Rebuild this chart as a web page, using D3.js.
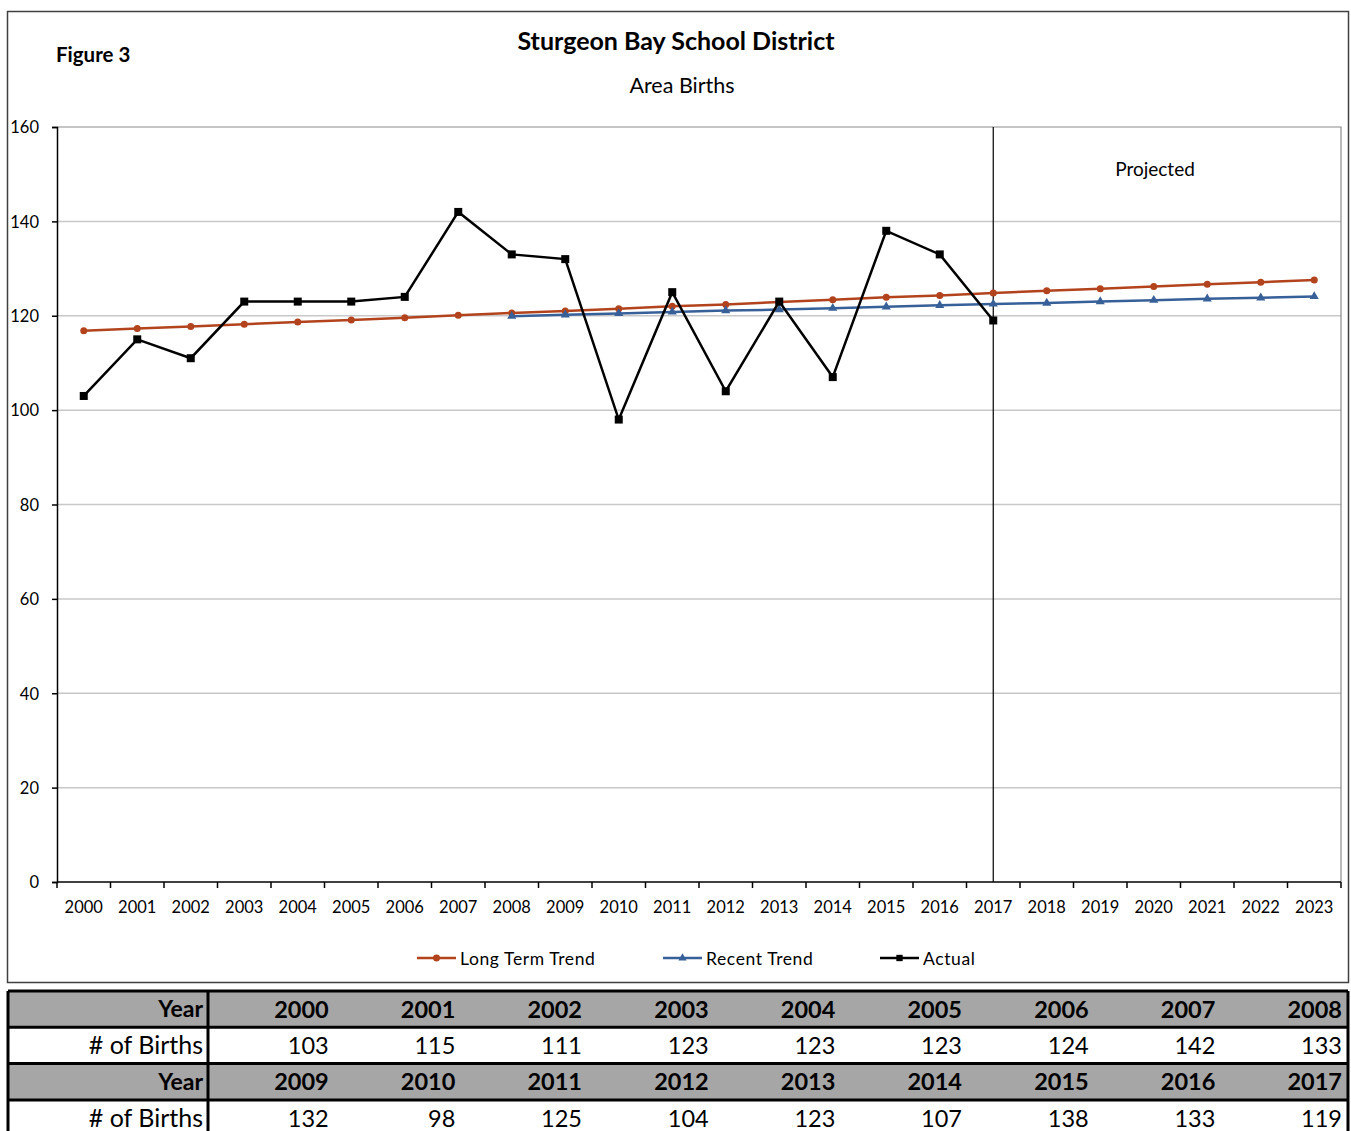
<!DOCTYPE html>
<html>
<head>
<meta charset="utf-8">
<script src="https://cdn.jsdelivr.net/npm/d3@7"></script>
<style>
body { margin: 0; background: #fff; font-family: Lato, "Open Sans", sans-serif; }
</style>
</head>
<body>
<div id="container"></div>
<script>
const years = d3.range(2000, 2024).map(String);
const actualYears = years.slice(0, 18);
const actual = [103, 115, 111, 123, 123, 123, 124, 142, 133, 132, 98, 125, 104, 123, 107, 138, 133, 119];
const longTerm = [116.8, 117.3, 117.7, 118.2, 118.7, 119.1, 119.6, 120.1, 120.6, 121.0, 121.5, 122.0,
    122.4, 122.9, 123.4, 123.9, 124.3, 124.8, 125.3, 125.7, 126.2, 126.7, 127.1, 127.6];
const recentYears = years.slice(8);
const recent = [119.9, 120.2, 120.5, 120.8, 121.1, 121.3, 121.6, 121.9, 122.2, 122.5, 122.7, 123.0,
    123.3, 123.6, 123.8, 124.1];
const yTicks = [0, 20, 40, 60, 80, 100, 120, 140, 160];

function main() {
    const width = 1351, height = 1131;
    const svg = d3.select("#container")
        .append("svg")
        .attr("width", width)
        .attr("height", height);

    // chart frame
    svg.append("rect")
        .attr("x", 7.5).attr("y", 11.5)
        .attr("width", 1341).attr("height", 971)
        .attr("fill", "#fff")
        .attr("stroke", "#404040")
        .attr("stroke-width", 1.5);

    svg.append("text")
        .attr("x", 56).attr("y", 62)
        .attr("font-size", 20.5).attr("font-weight", "bold")
        .text("Figure 3");
    svg.append("text")
        .attr("x", 676).attr("y", 50)
        .attr("text-anchor", "middle")
        .attr("font-size", 25).attr("font-weight", "bold")
        .text("Sturgeon Bay School District");
    svg.append("text")
        .attr("x", 682).attr("y", 93)
        .attr("text-anchor", "middle")
        .attr("font-size", 21.5)
        .text("Area Births");

    const left = 57, right = 1341, top = 127, bottom = 882;
    const x = d3.scaleBand().domain(years).range([left, right]);
    const cx = d => x(d) + x.bandwidth() / 2;
    const y = d3.scaleLinear().domain([0, 160]).range([bottom, top]);

    // gridlines
    svg.append("g")
        .selectAll("line")
        .data(yTicks.filter(d => d > 0 && d < 160))
        .join("line")
        .attr("x1", left).attr("x2", right)
        .attr("y1", d => y(d)).attr("y2", d => y(d))
        .attr("stroke", "#c8c8c8").attr("stroke-width", 1.5);

    // plot border top/right
    svg.append("path")
        .attr("d", `M${left},${top}H${right}V${bottom}`)
        .attr("fill", "none")
        .attr("stroke", "#8c8c8c").attr("stroke-width", 1.2);

    // y axis
    const yAxis = svg.append("g")
        .attr("transform", `translate(${left},0)`)
        .call(d3.axisLeft(y).tickValues(yTicks).tickSize(5).tickPadding(13));
    yAxis.select(".domain").attr("stroke", "#000").attr("stroke-width", 1.5);
    yAxis.selectAll("line").attr("stroke", "#000").attr("stroke-width", 1.5);
    yAxis.selectAll("text").attr("font-size", 16.5).attr("font-family", "Lato, sans-serif")
        .attr("dy", "0.35em").attr("fill", "#000");

    // x axis with ticks on band edges
    const xAxis = svg.append("g")
        .attr("transform", `translate(0,${bottom})`);
    xAxis.append("line")
        .attr("x1", left).attr("x2", right)
        .attr("stroke", "#000").attr("stroke-width", 1.5);
    xAxis.selectAll("line.tick")
        .data(years.concat(["end"]))
        .join("line")
        .attr("class", "tick")
        .attr("x1", (d, i) => left + i * x.bandwidth())
        .attr("x2", (d, i) => left + i * x.bandwidth())
        .attr("y1", 0).attr("y2", 6)
        .attr("stroke", "#000").attr("stroke-width", 1.5);
    xAxis.selectAll("text")
        .data(years)
        .join("text")
        .attr("x", d => cx(d))
        .attr("y", 31)
        .attr("text-anchor", "middle")
        .attr("font-size", 16.5)
        .text(d => d);

    // projected divider
    svg.append("line")
        .attr("x1", cx("2017")).attr("x2", cx("2017"))
        .attr("y1", top).attr("y2", bottom)
        .attr("stroke", "#000").attr("stroke-width", 1.2);
    svg.append("text")
        .attr("x", 1155).attr("y", 176)
        .attr("text-anchor", "middle")
        .attr("font-size", 19)
        .text("Projected");

    const line = d3.line().x(d => cx(d[0])).y(d => y(d[1]));
    const longColor = "#b2431c", recentColor = "#376099";

    const longData = years.map((d, i) => [d, longTerm[i]]);
    svg.append("path")
        .attr("d", line(longData))
        .attr("fill", "none").attr("stroke", longColor).attr("stroke-width", 2.5);
    svg.append("g").selectAll("circle")
        .data(longData)
        .join("circle")
        .attr("cx", d => cx(d[0])).attr("cy", d => y(d[1]))
        .attr("r", 3.5).attr("fill", longColor);

    const recentData = recentYears.map((d, i) => [d, recent[i]]);
    svg.append("path")
        .attr("d", line(recentData))
        .attr("fill", "none").attr("stroke", recentColor).attr("stroke-width", 2.5);
    svg.append("g").selectAll("path")
        .data(recentData)
        .join("path")
        .attr("d", d3.symbol(d3.symbolTriangle, 36))
        .attr("transform", d => `translate(${cx(d[0])},${y(d[1])})`)
        .attr("fill", recentColor);

    const actualData = actualYears.map((d, i) => [d, actual[i]]);
    svg.append("path")
        .attr("d", line(actualData))
        .attr("fill", "none").attr("stroke", "#000").attr("stroke-width", 2.5);
    svg.append("g").selectAll("rect")
        .data(actualData)
        .join("rect")
        .attr("x", d => cx(d[0]) - 4).attr("y", d => y(d[1]) - 4)
        .attr("width", 8).attr("height", 8)
        .attr("fill", "#000");

    // legend
    const legend = [
        { name: "Long Term Trend", color: longColor, type: "circle", x: 417 },
        { name: "Recent Trend", color: recentColor, type: "triangle", x: 663 },
        { name: "Actual", color: "#000", type: "square", x: 880 }
    ];
    const lg = svg.append("g").selectAll("g")
        .data(legend)
        .join("g")
        .attr("transform", d => `translate(${d.x},958)`);
    lg.append("line")
        .attr("x1", 0).attr("x2", 39)
        .attr("stroke", d => d.color).attr("stroke-width", 2.5);
    lg.append("path")
        .attr("d", d => d.type === "circle" ? d3.symbol(d3.symbolCircle, 38)()
            : d.type === "triangle" ? d3.symbol(d3.symbolTriangle, 30)()
            : d3.symbol(d3.symbolSquare, 40)())
        .attr("transform", "translate(19.5,0)")
        .attr("fill", d => d.color);
    lg.append("text")
        .attr("x", 43).attr("y", 1).attr("dy", "0.35em")
        .attr("font-size", 17.5)
        .attr("letter-spacing", 0.6)
        .text(d => d.name);

    drawTable(svg);
}

function drawTable(svg) {
    const rows = [
        { label: "Year", values: actualYears.slice(0, 9), head: true },
        { label: "# of Births", values: actual.slice(0, 9), head: false },
        { label: "Year", values: actualYears.slice(9), head: true },
        { label: "# of Births", values: actual.slice(9), head: false }
    ];
    const tLeft = 8, tRight = 1348, labelRight = 208, tTop = 991, rowH = 36.3;
    const col = d3.scaleBand().domain(d3.range(9)).range([labelRight, tRight]);
    const g = svg.append("g");
    const row = g.selectAll("g")
        .data(rows)
        .join("g")
        .attr("transform", (d, i) => `translate(0,${tTop + i * rowH})`);
    row.append("rect")
        .attr("x", tLeft).attr("width", tRight - tLeft).attr("height", rowH)
        .attr("fill", d => d.head ? "#a6a6a6" : "#fff");
    row.append("text")
        .attr("x", labelRight - 5).attr("y", rowH / 2).attr("dy", "0.36em")
        .attr("text-anchor", "end")
        .attr("font-size", d => d.head ? 23 : 25)
        .attr("font-weight", d => d.head ? "bold" : "normal")
        .text(d => d.label);
    row.selectAll("text.v")
        .data(d => d.values.map(v => ({ v, head: d.head })))
        .join("text")
        .attr("class", "v")
        .attr("x", (d, i) => col(i) + col.bandwidth() - 6)
        .attr("y", rowH / 2).attr("dy", "0.36em")
        .attr("text-anchor", "end")
        .attr("font-size", 23.5)
        .attr("font-weight", d => d.head ? "bold" : "normal")
        .text(d => d.v);
    // borders
    g.selectAll("line.h")
        .data(d3.range(5))
        .join("line")
        .attr("class", "h")
        .attr("x1", tLeft).attr("x2", tRight)
        .attr("y1", i => tTop + i * rowH).attr("y2", i => tTop + i * rowH)
        .attr("stroke", "#000").attr("stroke-width", 3);
    g.selectAll("line.v")
        .data([tLeft, labelRight, tRight])
        .join("line")
        .attr("class", "v")
        .attr("x1", d => d).attr("x2", d => d)
        .attr("y1", tTop).attr("y2", tTop + 4 * rowH)
        .attr("stroke", "#000").attr("stroke-width", 3);
}

main();
</script>
</body>
</html>
